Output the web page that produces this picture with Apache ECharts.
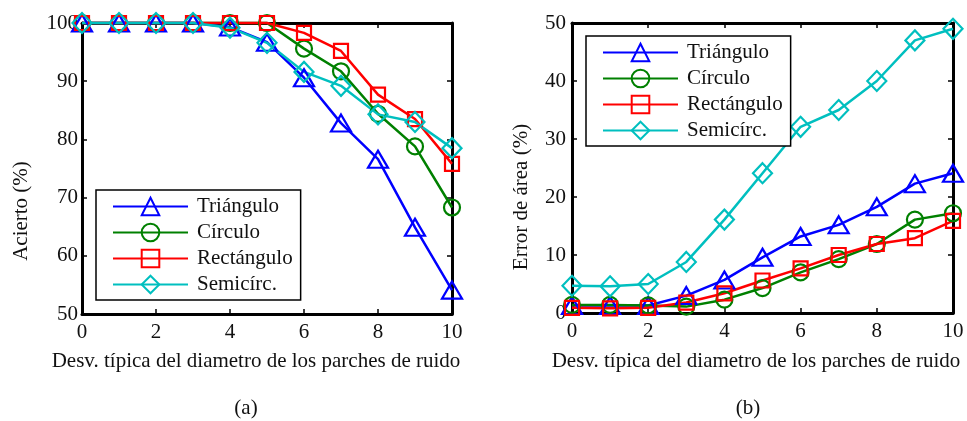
<!DOCTYPE html>
<html>
<head>
<meta charset="utf-8">
<script src="https://cdn.jsdelivr.net/npm/echarts@6/dist/echarts.min.js"></script>
<style>
  html, body { margin: 0; padding: 0; background: #fff; }
  #chart { width: 967px; height: 421px; }
</style>
</head>
<body>
<div id="chart"></div>
<script>
// Noise-patch diameter std. deviation (x axis, both panels)
const desv = [0, 1, 2, 3, 4, 5, 6, 7, 8, 9, 10];
const shapeNames = ['Triángulo', 'Círculo', 'Rectángulo', 'Semicírc.'];

// (a) Detection accuracy (%)
const aciertoTriangulo  = [100, 100, 100, 100, 99.3, 96.7, 90.6, 82.8, 76.6, 64.9, 54.1];
const aciertoCirculo    = [100, 100, 100, 100, 100, 100, 95.6, 91.7, 84.4, 78.8, 68.3];
const aciertoRectangulo = [100, 100, 100, 100, 100, 100, 98.3, 95.2, 87.7, 83.5, 75.8];
const aciertoSemicirc   = [100, 100, 100, 100, 99.2, 96.6, 91.6, 89.2, 84.3, 83.0, 78.5];

// (b) Area error (%)
const errorTriangulo  = [1.3, 1.3, 1.3, 3.0, 5.7, 9.6, 13.2, 15.2, 18.3, 22.3, 24.1];
const errorCirculo    = [1.4, 1.4, 1.3, 1.1, 2.3, 4.3, 7.0, 9.3, 11.9, 16.1, 17.2];
const errorRectangulo = [0.9, 0.8, 0.9, 1.8, 3.4, 5.6, 7.7, 10.0, 11.9, 12.9, 15.9];
const errorSemicirc   = [4.7, 4.6, 5.0, 8.8, 16.1, 24.1, 32.1, 35.0, 40.0, 47.0, 49.0];

const xTicks = { min: 0, max: 10, interval: 2 };
const yTicksA = { min: 50, max: 100, interval: 10 };
const yTicksB = { min: 0, max: 50, interval: 10 };

const FONT = 'Liberation Serif';
const FS = 21;
const styles = [
  { color: '#0000ff', symbol: 'triangle', size: [20, 17] },
  { color: '#008000', symbol: 'circle',   size: 16 },
  { color: '#ff0000', symbol: 'rect',     size: 14 },
  { color: '#00bfbf', symbol: 'diamond',  size: [19, 20] }
];

function pairs(ys) { return desv.map((x, i) => [x, ys[i]]); }

function makeSeries(values, gridIdx) {
  return values.map((ys, k) => ({
    type: 'line',
    name: shapeNames[k],
    xAxisIndex: gridIdx * 2,
    yAxisIndex: gridIdx * 2,
    data: pairs(ys),
    symbol: styles[k].symbol,
    symbolSize: styles[k].size,
    clip: false,
    lineStyle: { color: styles[k].color, width: 2.5 },
    itemStyle: { color: 'rgba(0,0,0,0)', borderColor: styles[k].color, borderWidth: 2.2 },
    emphasis: { disabled: true }
  }));
}

function xAxes(gridIndex) {
  const base = {
    type: 'value', gridIndex, ...xTicks,
    splitLine: { show: false },
    axisLine: { show: true, onZero: false, lineStyle: { color: '#000', width: 3 } },
    axisTick: { show: true, inside: true, length: 5, lineStyle: { color: '#000', width: 1.5 } }
  };
  return [
    { ...base, position: 'bottom',
      axisLabel: { show: true, color: '#111', fontFamily: FONT, fontSize: FS, margin: 8 } },
    { ...base, position: 'top', axisLabel: { show: false } }
  ];
}

function yAxes(gridIndex, ticks, margin) {
  const base = {
    type: 'value', gridIndex, ...ticks,
    splitLine: { show: false },
    axisLine: { show: true, onZero: false, lineStyle: { color: '#000', width: 3 } },
    axisTick: { show: true, inside: true, length: 5, lineStyle: { color: '#000', width: 1.5 } }
  };
  return [
    { ...base, position: 'left',
      axisLabel: { show: true, color: '#111', fontFamily: FONT, fontSize: FS, margin } },
    { ...base, position: 'right', axisLabel: { show: false } }
  ];
}

function legendAt(left, top) {
  return {
    data: shapeNames,
    orient: 'vertical',
    left, top,
    itemWidth: 75,
    itemHeight: 22,
    itemGap: 5,
    padding: [6, 8, 5, 16],
    backgroundColor: '#fff',
    borderColor: '#000',
    borderWidth: 1.5,
    selectedMode: false,
    textStyle: { fontFamily: FONT, fontSize: FS, lineHeight: 21, color: '#111', padding: [0, 0, 0, 4] }
  };
}

function label(text, x, y, rotate, size) {
  return {
    type: 'text', x, y, rotation: rotate ? Math.PI / 2 : 0,
    style: { text, fill: '#111', font: `${size || FS}px "${FONT}"`, align: 'center', verticalAlign: 'middle' }
  };
}

const chart = echarts.init(document.getElementById('chart'), null, { renderer: 'canvas' });
chart.setOption({
  animation: false,
  backgroundColor: '#fff',
  grid: [
    { left: 82, top: 23, width: 370, height: 291 },
    { left: 572, top: 23, width: 381, height: 290 }
  ],
  xAxis: [...xAxes(0), ...xAxes(1)],
  yAxis: [...yAxes(0, yTicksA, 4), ...yAxes(1, yTicksB, 6)],
  legend: [legendAt(96, 190), legendAt(586, 36)],
  series: [
    ...makeSeries([aciertoTriangulo, aciertoCirculo, aciertoRectangulo, aciertoSemicirc], 0),
    ...makeSeries([errorTriangulo, errorCirculo, errorRectangulo, errorSemicirc], 1)
  ],
  graphic: [
    label('Acierto (%)', 21, 211, true),
    label('Error de área (%)', 521, 197, true),
    label('Desv. típica del diametro de los parches de ruido', 256, 361, false),
    label('Desv. típica del diametro de los parches de ruido', 756, 361, false),
    label('(a)', 246, 408, false, 21),
    label('(b)', 748, 408, false, 21)
  ]
});
</script>
</body>
</html>
